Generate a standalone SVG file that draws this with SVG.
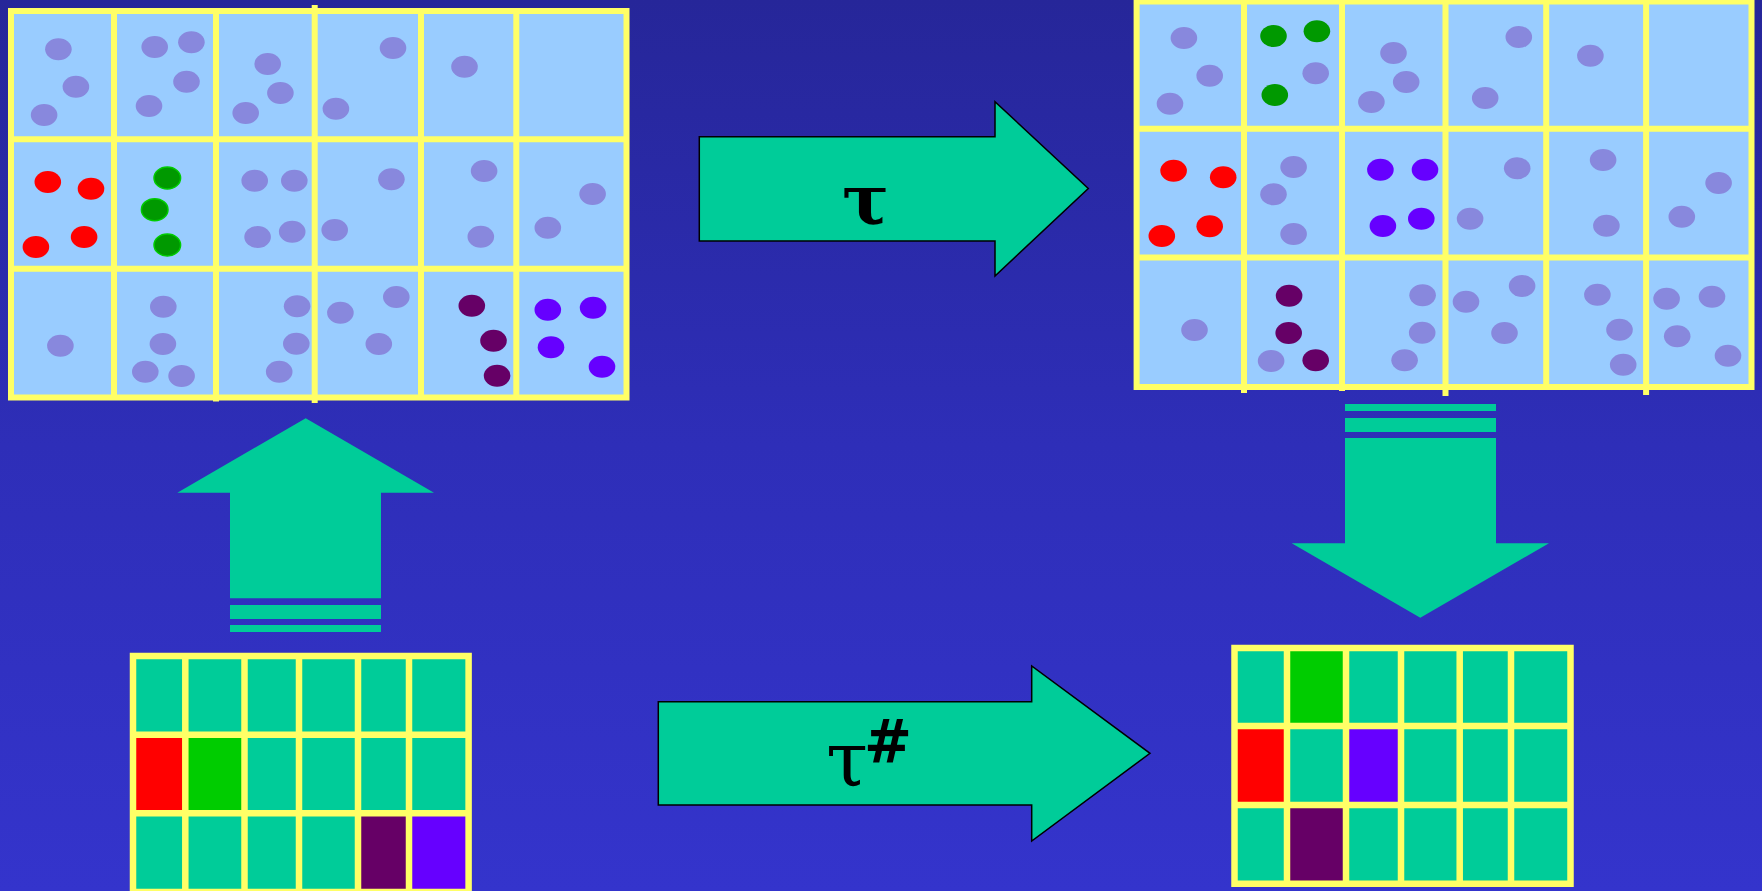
<svg xmlns="http://www.w3.org/2000/svg" width="1762" height="891" viewBox="0 0 1762 891">
<defs>
<linearGradient id="bg" x1="0" y1="0" x2="0" y2="1">
<stop offset="0" stop-color="#262699"/>
<stop offset="0.5" stop-color="#2e2eb8"/>
<stop offset="1" stop-color="#3434cc"/>
</linearGradient>
</defs>
<style>
.cell{fill:#99CCFF}
.yl{stroke:#FFFF66;stroke-width:6;fill:none;stroke-linecap:butt}
.ys{stroke:#FFFF66;stroke-width:6.5;fill:none}
.d{fill:#8888DD}
.r{fill:#FF0000}
.g{fill:#009900}
.g2{fill:#009900;stroke:#00CC00;stroke-width:1.5}
.p{fill:#660066}
.v{fill:#6600FF}
.teal{fill:#00CC99}
.arr{fill:#00CC99;stroke:#000;stroke-width:1.5;stroke-linejoin:miter}
.arrn{fill:#00CC99}
.lbl{font-family:"DejaVu Serif","Liberation Serif",serif;fill:#000}
</style>
<rect x="0" y="0" width="1762" height="891" fill="url(#bg)"/>

<g id="grid-top-left">
<rect class="cell" x="11" y="11" width="615.5" height="386.5"/>
<g class="d">
<ellipse cx="58.4" cy="49.3" rx="13.3" ry="11"/>
<ellipse cx="75.9" cy="86.7" rx="13.3" ry="11"/>
<ellipse cx="44.1" cy="115" rx="13.3" ry="11"/>
<ellipse cx="154.7" cy="47" rx="13.3" ry="11"/>
<ellipse cx="191.4" cy="42.3" rx="13.3" ry="11"/>
<ellipse cx="186.5" cy="81.7" rx="13.3" ry="11"/>
<ellipse cx="149" cy="106" rx="13.3" ry="11"/>
<ellipse cx="267.7" cy="64" rx="13.3" ry="11"/>
<ellipse cx="280.4" cy="93" rx="13.3" ry="11"/>
<ellipse cx="245.7" cy="113" rx="13.3" ry="11"/>
<ellipse cx="393" cy="48" rx="13.3" ry="11"/>
<ellipse cx="335.9" cy="108.7" rx="13.3" ry="11"/>
<ellipse cx="464.5" cy="66.7" rx="13.3" ry="11"/>
<ellipse cx="254.7" cy="180.7" rx="13.3" ry="11"/>
<ellipse cx="294.3" cy="180.7" rx="13.3" ry="11"/>
<ellipse cx="257.6" cy="237" rx="13.3" ry="11"/>
<ellipse cx="292.2" cy="231.7" rx="13.3" ry="11"/>
<ellipse cx="391.4" cy="179.3" rx="13.3" ry="11"/>
<ellipse cx="334.7" cy="230" rx="13.3" ry="11"/>
<ellipse cx="484.1" cy="171" rx="13.3" ry="11"/>
<ellipse cx="480.8" cy="236.7" rx="13.3" ry="11"/>
<ellipse cx="592.6" cy="194" rx="13.3" ry="11"/>
<ellipse cx="547.8" cy="227.7" rx="13.3" ry="11"/>
<ellipse cx="60.4" cy="345.7" rx="13.3" ry="11"/>
<ellipse cx="163.3" cy="306.7" rx="13.3" ry="11"/>
<ellipse cx="162.9" cy="344" rx="13.3" ry="11"/>
<ellipse cx="145.3" cy="371.7" rx="13.3" ry="11"/>
<ellipse cx="181.6" cy="376" rx="13.3" ry="11"/>
<ellipse cx="297.1" cy="306.3" rx="13.3" ry="11"/>
<ellipse cx="296.3" cy="343.7" rx="13.3" ry="11"/>
<ellipse cx="279.2" cy="371.7" rx="13.3" ry="11"/>
<ellipse cx="396.3" cy="297" rx="13.3" ry="11"/>
<ellipse cx="340.4" cy="312.7" rx="13.3" ry="11"/>
<ellipse cx="378.8" cy="344" rx="13.3" ry="11"/>
</g>
<g class="r">
<ellipse cx="47.8" cy="182" rx="13.3" ry="11"/>
<ellipse cx="91" cy="188.7" rx="13.3" ry="11"/>
<ellipse cx="84.1" cy="237" rx="13.3" ry="11"/>
<ellipse cx="35.9" cy="247" rx="13.3" ry="11"/>
</g>
<g class="g2">
<ellipse cx="167.3" cy="178" rx="13.3" ry="11"/>
<ellipse cx="154.7" cy="209.7" rx="13.3" ry="11"/>
<ellipse cx="167.3" cy="245" rx="13.3" ry="11"/>
</g>
<g class="p">
<ellipse cx="471.8" cy="305.7" rx="13.3" ry="11"/>
<ellipse cx="493.5" cy="340.7" rx="13.3" ry="11"/>
<ellipse cx="497.1" cy="375.7" rx="13.3" ry="11"/>
</g>
<g class="v">
<ellipse cx="547.8" cy="309.7" rx="13.3" ry="11"/>
<ellipse cx="593.1" cy="307.7" rx="13.3" ry="11"/>
<ellipse cx="551" cy="347.3" rx="13.3" ry="11"/>
<ellipse cx="602" cy="366.7" rx="13.3" ry="11"/>
</g>
<path class="yl" d="M8 11H629.5M8 139.3H629.5M8 268.7H629.5M8 397.5H629.5M11 8V400.5M114 11V400M216 11V401.5M314.7 5V403M421 11V400M516.3 11V400M626.5 8V400.5"/>
</g>

<g id="grid-top-right">
<rect class="cell" x="1136.6" y="1.5" width="614.9" height="385.5"/>
<g class="d">
<ellipse cx="1183.9" cy="38" rx="13.3" ry="11"/>
<ellipse cx="1209.7" cy="75.7" rx="13.3" ry="11"/>
<ellipse cx="1170" cy="103.7" rx="13.3" ry="11"/>
<ellipse cx="1315.7" cy="73.3" rx="13.3" ry="11"/>
<ellipse cx="1393.5" cy="53" rx="13.3" ry="11"/>
<ellipse cx="1406.2" cy="82" rx="13.3" ry="11"/>
<ellipse cx="1371.4" cy="102" rx="13.3" ry="11"/>
<ellipse cx="1518.8" cy="37" rx="13.3" ry="11"/>
<ellipse cx="1485.2" cy="98" rx="13.3" ry="11"/>
<ellipse cx="1590.4" cy="55.7" rx="13.3" ry="11"/>
<ellipse cx="1293.6" cy="167" rx="13.3" ry="11"/>
<ellipse cx="1273.5" cy="194.3" rx="13.3" ry="11"/>
<ellipse cx="1293.6" cy="234" rx="13.3" ry="11"/>
<ellipse cx="1517.2" cy="168.3" rx="13.3" ry="11"/>
<ellipse cx="1470.1" cy="218.7" rx="13.3" ry="11"/>
<ellipse cx="1603.1" cy="160" rx="13.3" ry="11"/>
<ellipse cx="1606.4" cy="225.7" rx="13.3" ry="11"/>
<ellipse cx="1718.6" cy="183" rx="13.3" ry="11"/>
<ellipse cx="1681.8" cy="216.7" rx="13.3" ry="11"/>
<ellipse cx="1194.5" cy="330" rx="13.3" ry="11"/>
<ellipse cx="1271.1" cy="361" rx="13.3" ry="11"/>
<ellipse cx="1422.6" cy="295.3" rx="13.3" ry="11"/>
<ellipse cx="1422.2" cy="332.7" rx="13.3" ry="11"/>
<ellipse cx="1404.6" cy="360.3" rx="13.3" ry="11"/>
<ellipse cx="1522.1" cy="286" rx="13.3" ry="11"/>
<ellipse cx="1466" cy="301.7" rx="13.3" ry="11"/>
<ellipse cx="1504.5" cy="333" rx="13.3" ry="11"/>
<ellipse cx="1597.4" cy="294.7" rx="13.3" ry="11"/>
<ellipse cx="1619.5" cy="329.7" rx="13.3" ry="11"/>
<ellipse cx="1623.2" cy="364.7" rx="13.3" ry="11"/>
<ellipse cx="1666.6" cy="298.7" rx="13.3" ry="11"/>
<ellipse cx="1712" cy="296.7" rx="13.3" ry="11"/>
<ellipse cx="1677.2" cy="336.3" rx="13.3" ry="11"/>
<ellipse cx="1728" cy="355.7" rx="13.3" ry="11"/>
</g>
<g class="g">
<ellipse cx="1273.5" cy="36" rx="13.3" ry="11"/>
<ellipse cx="1316.9" cy="31.3" rx="13.3" ry="11"/>
<ellipse cx="1274.8" cy="95" rx="13.3" ry="11"/>
</g>
<g class="r">
<ellipse cx="1173.6" cy="170.7" rx="13.3" ry="11"/>
<ellipse cx="1223.2" cy="177.3" rx="13.3" ry="11"/>
<ellipse cx="1209.7" cy="226.3" rx="13.3" ry="11"/>
<ellipse cx="1161.8" cy="236" rx="13.3" ry="11"/>
</g>
<g class="v">
<ellipse cx="1380.4" cy="169.7" rx="13.3" ry="11"/>
<ellipse cx="1425" cy="169.7" rx="13.3" ry="11"/>
<ellipse cx="1382.9" cy="226" rx="13.3" ry="11"/>
<ellipse cx="1421.3" cy="218.7" rx="13.3" ry="11"/>
</g>
<g class="p">
<ellipse cx="1289.1" cy="295.7" rx="13.3" ry="11"/>
<ellipse cx="1288.7" cy="333" rx="13.3" ry="11"/>
<ellipse cx="1315.7" cy="360.3" rx="13.3" ry="11"/>
</g>
<path class="yl" d="M1133.6 1.5H1754.5M1133.6 128.7H1754.5M1133.6 257.5H1754.5M1133.6 387H1754.5M1136.6 -1.5V390M1244 1.5V393M1342 1.5V391M1445.5 1.5V396M1546.2 1.5V390M1646.1 1.5V395M1751.5 -1.5V390"/>
</g>

<g id="grid-bottom-left">
<rect class="teal" x="133" y="656" width="335.6" height="236"/>
<rect class="r" x="133" y="734.7" width="52.3" height="78.6"/>
<rect style="fill:#00CC00" x="185.3" y="734.7" width="59.2" height="78.6"/>
<rect class="p" x="358" y="813.3" width="51" height="78.7"/>
<rect class="v" x="409" y="813.3" width="59.6" height="78.7"/>
<path class="ys" d="M129.75 656H471.85M129.75 734.7H471.85M129.75 813.3H471.85M129.75 892H471.85M133 652.75V895M185.3 656V892M244.5 656V892M299 656V892M358 656V892M409 656V892M468.6 652.75V895"/>
</g>

<g id="grid-bottom-right">
<rect class="teal" x="1234.5" y="648" width="336" height="235.7"/>
<rect style="fill:#00CC00" x="1287" y="648" width="59" height="78"/>
<rect class="r" x="1234.5" y="726" width="52.5" height="79"/>
<rect class="v" x="1346" y="726" width="55" height="79"/>
<rect class="p" x="1287" y="805" width="59" height="78.7"/>
<path class="ys" d="M1231.25 648H1573.75M1231.25 726H1573.75M1231.25 805H1573.75M1231.25 883.7H1573.75M1234.5 644.75V886.95M1287 648V883.7M1346 648V883.7M1401 648V883.7M1459.7 648V883.7M1511 648V883.7M1570.5 644.75V886.95"/>
</g>

<g id="connectors">
<g id="arrow-tau">
<polygon class="arr" points="699.3,136.7 995,136.7 995,101.7 1088.3,188.5 995,276 995,241 699.3,241"/>
<text class="lbl" x="865.5" y="224" font-size="70" font-weight="bold" text-anchor="middle">τ</text>
</g>
<g id="arrow-tau-sharp">
<polygon class="arr" points="658.3,701.7 1031.7,701.7 1031.7,666 1150,753.3 1031.7,841 1031.7,805 658.3,805"/>
<text class="lbl" x="826" y="786" font-size="76">τ<tspan x="864" y="761.7" font-family="DejaVu Sans, sans-serif" font-size="60" font-weight="bold" textLength="48" lengthAdjust="spacingAndGlyphs">#</tspan></text>
</g>
<g id="arrow-up">
<polygon class="arrn" points="305.7,418.3 434,492.7 381,492.7 381,598.3 230,598.3 230,492.7 177.3,492.7"/>
<rect class="arrn" x="230" y="605" width="151" height="14"/>
<rect class="arrn" x="230" y="625" width="151" height="7"/>
</g>
<g id="arrow-down">
<rect class="arrn" x="1345" y="404" width="151" height="7"/>
<rect class="arrn" x="1345" y="418" width="151" height="14"/>
<polygon class="arrn" points="1345,438 1496,438 1496,543.3 1549,543.3 1420.3,617.7 1291.7,543.3 1345,543.3"/>
</g>
</g>
</svg>
